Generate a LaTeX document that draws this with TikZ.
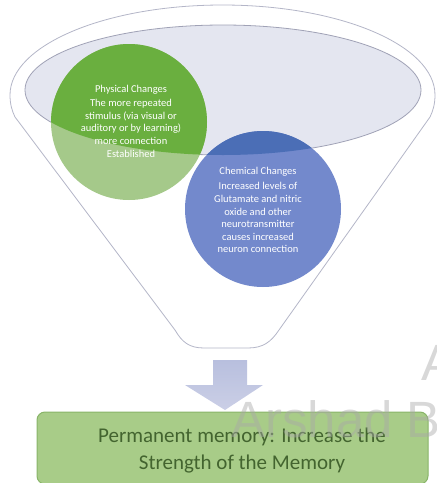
\documentclass[tikz,border=0pt]{standalone}
\usepackage{fontspec}
\setmainfont{Carlito}
\newfontfamily\wmfont{Liberation Sans}
\definecolor{funnelgray}{HTML}{B4B6C8}
\definecolor{innerfill}{HTML}{E4E6F0}
\definecolor{innerline}{HTML}{A0A2B6}
\definecolor{greendark}{HTML}{6AAF3F}
\definecolor{greenlight}{HTML}{A5C98A}
\definecolor{bluedark}{HTML}{4B6EB6}
\definecolor{bluelight}{HTML}{7389CC}
\definecolor{arrowtop}{HTML}{B8BFDE}
\definecolor{arrowbot}{HTML}{CBCFE6}
\definecolor{boxfill}{HTML}{A8CC88}
\definecolor{boxline}{HTML}{88B468}
\definecolor{boxtext}{HTML}{43642F}
\definecolor{wmgray}{HTML}{A8A8A8}
\begin{document}
\begin{tikzpicture}[x=1pt,y=-1pt,
  funnelline/.style={draw=funnelgray, line width=0.8pt},
  ctext/.style={text=white, align=center, inner sep=0pt, font=\fontsize{10.5}{12.6}\selectfont},
  permbox/.style={draw=boxline, fill=boxfill, rounded corners=8pt, line width=1pt, minimum width=391pt, minimum height=72pt},
  permtxt/.style={text=boxtext, align=center, inner sep=0pt, font=\fontsize{21}{27}\selectfont},
  wmark/.style={anchor=base west, inner sep=0pt, text=wmgray, opacity=0.45, font=\wmfont\fontsize{51}{51}\selectfont}]
\useasboundingbox (0,0) rectangle (437,483);
\clip (0,0) rectangle (437,483);
% outer funnel
\draw[funnelline, fill=white] (10,95) .. controls (10,45.3) and (105.1,5) .. (222.5,5)
  .. controls (339.9,5) and (435,45.3) .. (435,95)
  .. controls (435,104) and (433,111) .. (430,117) -- (279,330)
  .. controls (271,342) and (263,348) .. (248,348) -- (204,348)
  .. controls (189,348) and (182,342) .. (175,330) -- (15,117)
  .. controls (12,111) and (10,104) .. (10,95) -- cycle;
% inner opening
\draw[fill=innerfill, draw=innerline, line width=0.8pt] (223,90) ellipse [x radius=198pt, y radius=65pt];
% circles
\fill[greenlight] (129,122) circle [radius=78pt];
\fill[bluelight] (263,209) circle [radius=78pt];
\begin{scope}
  \clip (223,90) ellipse [x radius=198pt, y radius=65pt];
  \fill[greendark] (129,122) circle [radius=78pt];
  \fill[bluedark] (263,209) circle [radius=78pt];
\end{scope}
\node[ctext] (phys) at (131,121) {Physical Changes\\[2pt]The more repeated\\stimulus (via visual or\\auditory or by learning)\\more connection\\Established};
\node[ctext] (chem) at (258,210) {Chemical Changes\\[3pt]Increased levels of\\Glutamate and nitric\\oxide and other\\neurotransmitter\\causes increased\\neuron connection};
% block arrow
\shade[top color=arrowtop, bottom color=arrowbot] (213,360) -- (247,360) -- (247,385) -- (263,385) -- (225,410) -- (185,385) -- (213,385) -- cycle;
% result box
\node[permbox] (perm) at (232.5,448) {};
\node[permtxt] (permtext) at (242,451) {Permanent memory: Increase the\\Strength of the Memory};
% watermark
\node[wmark] (wm1) at (421,380) {A};
\node[wmark] (wm2) at (231,437) {Arshad B};
\end{tikzpicture}
\end{document}
